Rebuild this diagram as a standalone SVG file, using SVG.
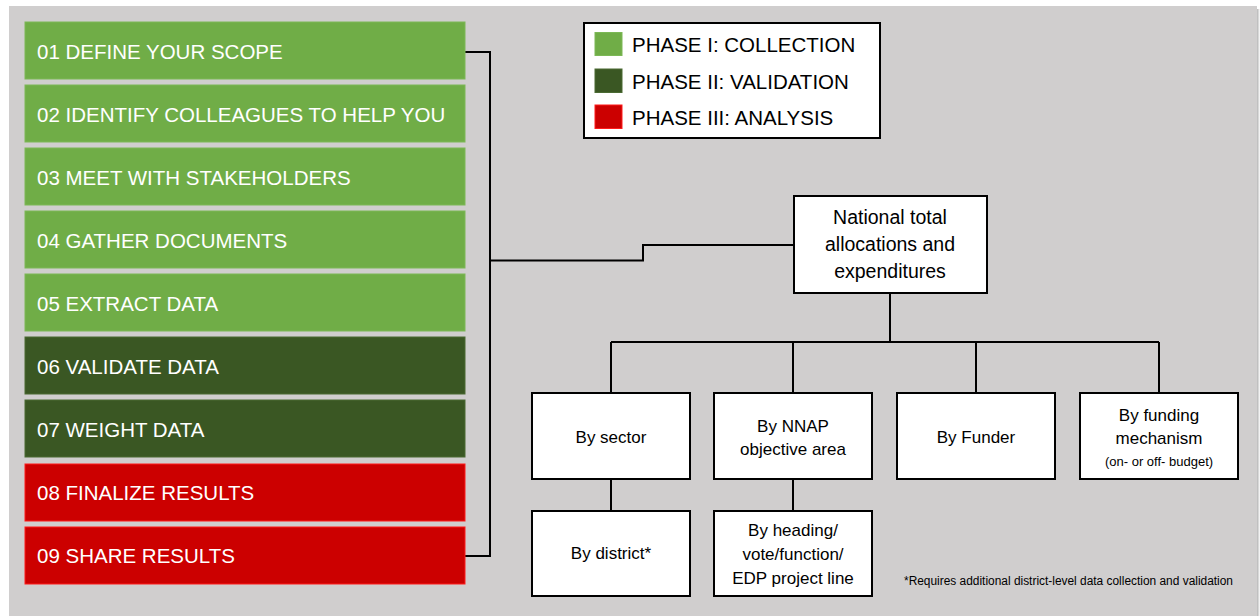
<svg xmlns="http://www.w3.org/2000/svg" width="1260" height="616" viewBox="0 0 1260 616">
<defs>
<style>
.step{font-family:"Liberation Sans",Arial,sans-serif;font-size:20.5px;fill:#ffffff}
.p1{fill:#70ad47;stroke:#7cb856;stroke-width:1}
.p2{fill:#3a5723;stroke:#4a6a33;stroke-width:1}
.p3{fill:#cc0000;stroke:#ff1a1a;stroke-width:1}
.leg{font-family:"Liberation Sans",Arial,sans-serif;font-size:20.5px;fill:#000}
.box{fill:#fff;stroke:#000;stroke-width:2}
.lbl{font-family:"Liberation Sans",Arial,sans-serif;font-size:17px;fill:#000;text-anchor:middle}
.big{font-size:19.5px}
.small{font-size:13px}
.conn{fill:none;stroke:#000;stroke-width:2}
</style>
<linearGradient id="sh" x1="0" y1="0" x2="1" y2="0">
<stop offset="0" stop-color="#9a9a9a"/>
<stop offset="1" stop-color="#ffffff"/>
</linearGradient>
</defs>
<rect x="0" y="0" width="1260" height="616" fill="#ffffff"/>
<rect x="1256" y="9" width="4" height="607" fill="url(#sh)"/>
<rect x="9" y="6" width="1248" height="610" fill="#d0cece"/>

<g id="connectors">
<path class="conn" d="M465,52 H490 V556 H465"/>
<path class="conn" d="M490,260.5 H643 V245 H794"/>
<path class="conn" d="M890,293 V342 M611,342 H1159 M611,342 V393 M793,342 V393 M976,342 V393 M1159,342 V393"/>
<path class="conn" d="M611,479 V511 M793,479 V511"/>
</g>

<g id="step01"><rect class="p1" x="25" y="22" width="440" height="57"/><text class="step" x="37" y="59">01 DEFINE YOUR SCOPE</text></g>
<g id="step02"><rect class="p1" x="25" y="85" width="440" height="57"/><text class="step" x="37" y="122">02 IDENTIFY COLLEAGUES TO HELP YOU</text></g>
<g id="step03"><rect class="p1" x="25" y="148" width="440" height="57"/><text class="step" x="37" y="185">03 MEET WITH STAKEHOLDERS</text></g>
<g id="step04"><rect class="p1" x="25" y="211" width="440" height="57"/><text class="step" x="37" y="248">04 GATHER DOCUMENTS</text></g>
<g id="step05"><rect class="p1" x="25" y="274" width="440" height="57"/><text class="step" x="37" y="311">05 EXTRACT DATA</text></g>
<g id="step06"><rect class="p2" x="25" y="337" width="440" height="57"/><text class="step" x="37" y="374">06 VALIDATE DATA</text></g>
<g id="step07"><rect class="p2" x="25" y="400" width="440" height="57"/><text class="step" x="37" y="437">07 WEIGHT DATA</text></g>
<g id="step08"><rect class="p3" x="25" y="464" width="440" height="57"/><text class="step" x="37" y="500">08 FINALIZE RESULTS</text></g>
<g id="step09"><rect class="p3" x="25" y="527" width="440" height="57"/><text class="step" x="37" y="563">09 SHARE RESULTS</text></g>

<g id="legend">
<rect x="584" y="23" width="296" height="115" fill="#fff" stroke="#000" stroke-width="2"/>
<rect class="p1" x="595" y="32.5" width="27" height="23"/>
<rect class="p2" x="595" y="69" width="27" height="23.5"/>
<rect class="p3" x="595" y="105" width="27" height="23.5"/>
<text class="leg" x="632" y="52">PHASE I: COLLECTION</text>
<text class="leg" x="632" y="88.5">PHASE II: VALIDATION</text>
<text class="leg" x="632" y="125">PHASE III: ANALYSIS</text>
</g>

<g id="national">
<rect class="box" x="794" y="196" width="193" height="97"/>
<text class="lbl big" x="890" y="224">National total</text>
<text class="lbl big" x="890" y="251">allocations and</text>
<text class="lbl big" x="890" y="278">expenditures</text>
</g>

<g id="bysector">
<rect class="box" x="532" y="393" width="158" height="86"/>
<text class="lbl" x="611" y="443">By sector</text>
</g>
<g id="bynnap">
<rect class="box" x="714" y="393" width="158" height="86"/>
<text class="lbl" x="793" y="432">By NNAP</text>
<text class="lbl" x="793" y="455">objective area</text>
</g>
<g id="byfunder">
<rect class="box" x="897" y="393" width="158" height="86"/>
<text class="lbl" x="976" y="443">By Funder</text>
</g>
<g id="bymechanism">
<rect class="box" x="1080" y="393" width="158" height="86"/>
<text class="lbl" x="1159" y="421">By funding</text>
<text class="lbl" x="1159" y="444">mechanism</text>
<text class="lbl small" x="1159" y="466">(on- or off- budget)</text>
</g>
<g id="bydistrict">
<rect class="box" x="532" y="511" width="158" height="85"/>
<text class="lbl" x="611" y="559">By district*</text>
</g>
<g id="byheading">
<rect class="box" x="714" y="511" width="158" height="85"/>
<text class="lbl" x="793" y="536">By heading/</text>
<text class="lbl" x="793" y="560">vote/function/</text>
<text class="lbl" x="793" y="584">EDP project line</text>
</g>

<text x="904" y="585" font-family="'Liberation Sans',Arial,sans-serif" font-size="12" fill="#000" textLength="329" lengthAdjust="spacingAndGlyphs">*Requires additional district-level data collection and validation</text>
</svg>
